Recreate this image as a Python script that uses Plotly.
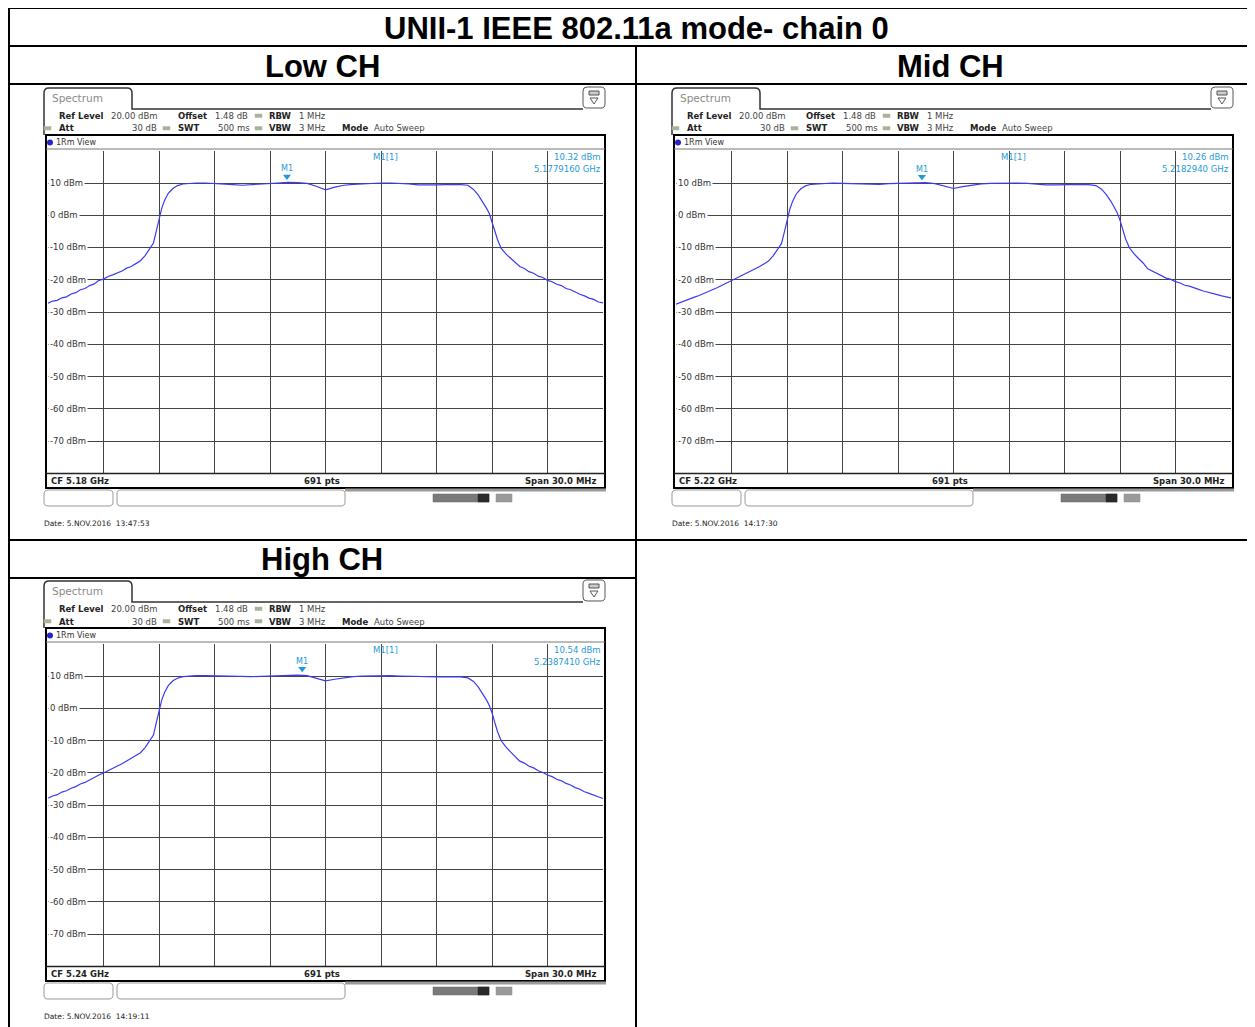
import plotly.graph_objects as go

# the page body adds an 8px margin, so the figure covers the window from (8, 8)
PAGE_OFF = 8
W, H = 1255 - PAGE_OFF, 1027 - PAGE_OFF

offset_mhz = [
    -15.0, -14.75, -14.5, -14.25, -14.0, -13.75, -13.5, -13.25, -13.0, -12.75,
    -12.5, -12.25, -12.0, -11.75, -11.5, -11.25, -11.0, -10.75, -10.5, -10.25,
    -10.0, -9.75, -9.5, -9.3, -9.15, -9.0, -8.85, -8.7, -8.5, -8.25,
    -8.0, -7.7, -7.3, -7.0, -6.5, -6.0, -5.5, -5.0, -4.5, -4.0,
    -3.5, -3.0, -2.5, -2.0, -1.5, -1.0, -0.5, 0.0, 0.5, 1.0,
    1.5, 2.0, 2.5, 3.0, 3.5, 4.0, 4.5, 5.0, 5.5, 6.0,
    6.5, 7.0, 7.3, 7.7, 8.0, 8.25, 8.5, 8.7, 8.85, 9.0,
    9.15, 9.3, 9.5, 9.75, 10.0, 10.25, 10.5, 10.75, 11.0, 11.25,
    11.5, 11.75, 12.0, 12.25, 12.5, 12.75, 13.0, 13.25, 13.5, 13.75,
    14.0, 14.25, 14.5, 14.75, 15.0,
]

low_dbm = [
    -27.3, -26.6, -26.4, -25.6, -25.3, -24.4, -24.0, -23.1, -22.7, -21.8,
    -21.3, -20.2, -19.8, -19.0, -18.5, -17.9, -17.3, -16.4, -15.9, -15.0,
    -14.1, -12.5, -10.4, -8.6, -5.0, -1.0, 2.2, 4.6, 6.8, 8.3,
    9.2, 9.7, 9.9, 10.0, 10.0, 9.9, 9.7, 9.5, 9.3, 9.5,
    9.8, 9.9, 10.1, 10.2, 10.1, 9.9, 9.0, 7.9, 8.7, 9.3,
    9.6, 9.8, 9.9, 10.0, 10.0, 9.9, 9.7, 9.4, 9.3, 9.4,
    9.5, 9.6, 9.5, 9.3, 8.0, 6.3, 4.2, 2.2, 0.6, -1.8,
    -4.8, -7.6, -10.3, -12.0, -13.3, -14.5, -15.9, -16.5, -17.5, -18.0,
    -18.9, -19.3, -20.2, -20.6, -21.4, -21.8, -22.7, -23.1, -23.9, -24.5,
    -25.0, -25.7, -26.1, -26.9, -27.2,
]

mid_dbm = [
    -27.6, -27.0, -26.5, -26.0, -25.4, -24.9, -24.2, -23.7, -23.0, -22.4,
    -21.7, -21.0, -20.4, -19.6, -19.0, -18.2, -17.6, -16.8, -16.0, -15.1,
    -14.2, -12.6, -10.6, -8.8, -5.4, -1.5, 1.8, 4.3, 6.6, 8.2,
    9.1, 9.6, 9.8, 9.9, 10.0, 9.9, 9.8, 9.6, 9.5, 9.6,
    9.8, 9.9, 10.0, 10.1, 10.1, 9.8, 9.1, 8.3, 8.9, 9.4,
    9.7, 9.9, 10.0, 10.1, 10.0, 9.9, 9.6, 9.4, 9.4, 9.5,
    9.5, 9.6, 9.5, 9.2, 8.1, 6.5, 4.4, 2.5, 0.8, -1.5,
    -4.5, -7.3, -10.0, -11.9, -13.4, -14.8, -16.6, -17.3, -18.2, -18.7,
    -19.5, -19.9, -20.6, -21.0, -21.7, -22.0, -22.6, -23.0, -23.5, -23.8,
    -24.3, -24.6, -25.0, -25.2, -25.6,
]

high_dbm = [
    -27.9, -27.2, -26.8, -26.0, -25.6, -24.8, -24.3, -23.5, -23.0, -22.2,
    -21.6, -20.7, -20.1, -19.3, -18.6, -17.9, -17.2, -16.4, -15.6, -14.6,
    -13.8, -12.2, -10.2, -8.3, -4.6, -0.6, 2.6, 4.9, 7.0, 8.5,
    9.3, 9.8, 10.0, 10.1, 10.1, 10.0, 9.9, 9.8, 9.7, 9.8,
    9.9, 10.0, 10.1, 10.2, 10.3, 10.1, 9.3, 8.5, 9.0, 9.5,
    9.8, 10.0, 10.1, 10.1, 10.1, 10.0, 9.9, 9.7, 9.6, 9.7,
    9.7, 9.8, 9.7, 9.4, 8.3, 6.6, 4.5, 2.6, 0.9, -1.4,
    -4.4, -7.3, -10.1, -12.0, -13.5, -14.9, -16.4, -17.0, -18.0, -18.5,
    -19.4, -19.9, -20.7, -21.2, -22.0, -22.5, -23.3, -23.8, -24.6, -25.1,
    -25.9, -26.4, -27.0, -27.5, -28.0,
]

channels = ["Low CH", "Mid CH", "High CH"]
levels = [low_dbm, mid_dbm, high_dbm]
center_ghz = [5.18, 5.22, 5.24]
span_mhz = 30.0
marker_offset_mhz = [-2.084, -1.706, -1.259]
marker_dbm = [10.32, 10.26, 10.54]
dates = ["Date: 5.NOV.2016  13:47:53", "Date: 5.NOV.2016  14:17:30", "Date: 5.NOV.2016  14:19:11"]
ytick_dbm = [10, 0, -10, -20, -30, -40, -50, -60, -70]
title = "UNII-1 IEEE 802.11a mode- chain 0"

# panel placement (pixel offsets of each screenshot inside the table)
panel_pos = [(0, 0), (628, 0), (0, 493)]

FONT = "DejaVu Sans"
TRACE = "#3b3bf2"
MARK = "#1f9ad9"
GRID = "#444444"

def X(px):
    return (px - PAGE_OFF) / W

def Y(py):
    return 1 - (py - PAGE_OFF) / H

shapes = []
annotations = []

def line(x0, y0, x1, y1, color="black", width=1):
    shapes.append(dict(type="line", xref="paper", yref="paper",
                       x0=X(x0), y0=Y(y0), x1=X(x1), y1=Y(y1),
                       line=dict(color=color, width=width), layer="above"))

def rect(x0, y0, x1, y1, color="black", width=1, fill="rgba(0,0,0,0)"):
    shapes.append(dict(type="rect", xref="paper", yref="paper",
                       x0=X(x0), y0=Y(y0), x1=X(x1), y1=Y(y1),
                       line=dict(color=color, width=width), fillcolor=fill, layer="above"))

def path(d, color="black", width=1, fill="rgba(0,0,0,0)"):
    # d: list of (cmd, [x, y, x, y ...]) in pixels
    parts = []
    for cmd, pts in d:
        coords = []
        for k in range(0, len(pts), 2):
            coords.append("%.5f,%.5f" % (X(pts[k]), Y(pts[k + 1])))
        parts.append(cmd + " " + " ".join(coords))
    shapes.append(dict(type="path", xref="paper", yref="paper", path=" ".join(parts),
                       line=dict(color=color, width=width), fillcolor=fill, layer="above"))

def rounded(x0, y0, x1, y1, r, color="#999999", width=1, fill="rgba(0,0,0,0)"):
    path([("M", [x0 + r, y0]), ("L", [x1 - r, y0]), ("Q", [x1, y0, x1, y0 + r]),
          ("L", [x1, y1 - r]), ("Q", [x1, y1, x1 - r, y1]), ("L", [x0 + r, y1]),
          ("Q", [x0, y1, x0, y1 - r]), ("L", [x0, y0 + r]), ("Q", [x0, y0, x0 + r, y0]), ("Z", [])],
         color=color, width=width, fill=fill)

def text(x, y, s, size=8.5, color="#222222", anchor="left", family=FONT, bg=None):
    a = dict(xref="paper", yref="paper", x=X(x), y=Y(y), text=s, showarrow=False,
             xanchor=anchor, yanchor="middle", font=dict(family=family, size=size, color=color),
             borderpad=0)
    if bg:
        a["bgcolor"] = bg
    annotations.append(a)

fig = go.Figure()

# ---- table frame ----
line(8, 8, 1255, 8, width=2)
line(8, 46, 1255, 46, width=2)
line(8, 84, 1255, 84, width=2)
line(8, 540, 1255, 540, width=2)
line(8, 578, 636, 578, width=2)
line(9, 8, 9, 1027, width=2)
line(636, 46, 636, 1027, width=2)

TITLE_FONT = "Liberation Sans"
text(636, 28, "<b>%s</b>" % title, size=31, color="black", anchor="center", family=TITLE_FONT)
text(322, 66, "<b>%s</b>" % channels[0], size=31, color="black", anchor="center", family=TITLE_FONT)
text(950, 66, "<b>%s</b>" % channels[1], size=31, color="black", anchor="center", family=TITLE_FONT)
text(322, 559, "<b>%s</b>" % channels[2], size=31, color="black", anchor="center", family=TITLE_FONT)

layout_axes = {}

for i, (dx, dy) in enumerate(panel_pos):
    n = "" if i == 0 else str(i + 1)
    cf = center_ghz[i]
    half = span_mhz / 2 / 1000

    # --- screen chrome ---
    path([("M", [44 + dx, 135 + dy]), ("L", [44 + dx, 93 + dy]), ("Q", [44 + dx, 88 + dy, 49 + dx, 88 + dy]),
          ("L", [127 + dx, 88 + dy]), ("Q", [132 + dx, 88 + dy, 132 + dx, 93 + dy]),
          ("L", [132 + dx, 109 + dy]), ("L", [583 + dx, 109 + dy])], color="#333333", width=1.5)
    text(51 + dx, 98 + dy, "Spectrum", size=10.5, color="#8a8a8a")
    rounded(583 + dx, 87 + dy, 605 + dx, 108 + dy, 4, color="#555555", width=1)
    rect(589 + dx, 91 + dy, 599 + dx, 95 + dy, color="#555555", width=1, fill="#cccccc")
    path([("M", [590 + dx, 98 + dy]), ("L", [598 + dx, 98 + dy]), ("L", [594 + dx, 104 + dy]), ("Z", [])],
         color="#555555", width=1)

    # parameter block
    text(58 + dx, 116 + dy, "<b>Ref Level</b>")
    text(110 + dx, 116 + dy, "20.00 dBm", color="#444444")
    text(177 + dx, 116 + dy, "<b>Offset</b>")
    text(214 + dx, 116 + dy, "1.48 dB", color="#444444")
    text(268 + dx, 116 + dy, "<b>RBW</b>")
    text(298 + dx, 116 + dy, "1 MHz", color="#444444")
    text(58 + dx, 128.5 + dy, "<b>Att</b>")
    text(158 + dx, 128.5 + dy, "30 dB", color="#444444", anchor="right")
    text(177 + dx, 128.5 + dy, "<b>SWT</b>")
    text(217 + dx, 128.5 + dy, "500 ms", color="#444444")
    text(268 + dx, 128.5 + dy, "<b>VBW</b>")
    text(298 + dx, 128.5 + dy, "3 MHz", color="#444444")
    text(341 + dx, 128.5 + dy, "<b>Mode</b>")
    text(373 + dx, 128.5 + dy, "Auto Sweep", color="#444444")
    for bx, by in [(255, 116), (44, 128.5), (163, 128.5), (255, 128.5)]:
        rect(bx + dx, by - 2 + dy, bx + 7 + dx, by + 1.5 + dy, color="#a9b39a", width=0.5, fill="#a9b39a")

    # frame of the diagram
    rect(46 + dx, 135 + dy, 605 + dx, 488 + dy, color="black", width=2)
    line(46 + dx, 149 + dy, 605 + dx, 149 + dy, color="#777777", width=1)
    line(46 + dx, 473.5 + dy, 605 + dx, 473.5 + dy, color="#222222", width=1.5)
    shapes.append(dict(type="circle", xref="paper", yref="paper",
                       x0=X(47 + dx), y0=Y(145.5 + dy), x1=X(53 + dx), y1=Y(139.5 + dy),
                       fillcolor="#2424c8", line=dict(color="#2424c8", width=0), layer="above"))
    text(55 + dx, 142.5 + dy, "1Rm View", size=8, color="#333333")
    text(50 + dx, 480.5 + dy, "<b>CF %.2f GHz</b>" % cf, size=8.5)
    text(322 + dx, 480.5 + dy, "<b>691 pts</b>", size=8.5, anchor="center")
    text(597 + dx, 480.5 + dy, "<b>Span %.1f MHz</b>" % span_mhz, size=8.5, anchor="right")

    # softkey strip below the screen
    line(345 + dx, 490 + dy, 606 + dx, 490 + dy, color="#9a9a9a", width=3)
    rounded(44 + dx, 490 + dy, 113 + dx, 506 + dy, 4, color="#9a9a9a")
    rounded(117 + dx, 490 + dy, 345 + dx, 506 + dy, 4, color="#9a9a9a")
    rect(433 + dx, 494 + dy, 489 + dx, 502 + dy, color="#6a6a6a", width=0.5, fill="#7a7a7a")
    rect(478 + dx, 494 + dy, 489 + dx, 502 + dy, color="#2a2a2a", width=0.5, fill="#2a2a2a")
    rect(496 + dx, 494 + dy, 512 + dx, 502 + dy, color="#8a8a8a", width=0.5, fill="#9a9a9a")
    text(43 + dx, 523 + dy, dates[i], size=7.5, color="#222222")

    # --- axes ---
    layout_axes["xaxis" + n] = dict(
        domain=[X(48 + dx), X(603 + dx)], range=[cf - half, cf + half],
        tick0=cf - half, dtick=span_mhz / 10 / 1000, showticklabels=False, ticks="",
        showgrid=True, gridcolor=GRID, gridwidth=1, zeroline=False, showline=False,
        anchor="y" + n, fixedrange=True)
    layout_axes["yaxis" + n] = dict(
        domain=[Y(473.25 + dy), Y(150.75 + dy)], range=[-80, 20],
        tick0=-80, dtick=10, showticklabels=False, ticks="",
        showgrid=True, gridcolor=GRID, gridwidth=1, zeroline=False, showline=False,
        anchor="x" + n, fixedrange=True)

    # --- trace ---
    freqs = [cf + o / 1000 for o in offset_mhz]
    fig.add_trace(go.Scatter(x=freqs, y=levels[i], mode="lines",
                             line=dict(color=TRACE, width=1.2),
                             xaxis="x" + n, yaxis="y" + n, hoverinfo="skip"))

    # marker M1
    mf = cf + marker_offset_mhz[i] / 1000
    fig.add_trace(go.Scatter(x=[mf], y=[marker_dbm[i] + 1.7], mode="markers",
                             marker=dict(symbol="triangle-down", size=7, color=MARK),
                             xaxis="x" + n, yaxis="y" + n, hoverinfo="skip"))
    annotations.append(dict(xref="x" + n, yref="y" + n, x=mf, y=marker_dbm[i], yshift=13,
                            text="M1", showarrow=False, xanchor="center", yanchor="middle",
                            font=dict(family=FONT, size=8, color=MARK)))

    # marker readout
    text(385 + dx, 157 + dy, "M1[1]", size=8.5, color=MARK, anchor="center")
    text(602 + dx, 157 + dy, "%.2f dBm" % marker_dbm[i], size=8.5, color=MARK, anchor="right")
    text(602 + dx, 169 + dy, "%.7f GHz" % mf, size=8.5, color=MARK, anchor="right")

    # level labels sitting on the grid lines
    for v in ytick_dbm:
        annotations.append(dict(xref="paper", yref="y" + n, x=X(47.5 + dx), y=v,
                                text="%d dBm" % v, showarrow=False, xanchor="left", yanchor="middle",
                                bgcolor="white", borderpad=1,
                                font=dict(family=FONT, size=8.5, color="#333333")))

fig.update_layout(
    width=W, height=H, margin=dict(l=0, r=0, t=0, b=0),
    paper_bgcolor="white", plot_bgcolor="white", showlegend=False,
    shapes=shapes, annotations=annotations, **layout_axes)

fig.write_html("out.html")
